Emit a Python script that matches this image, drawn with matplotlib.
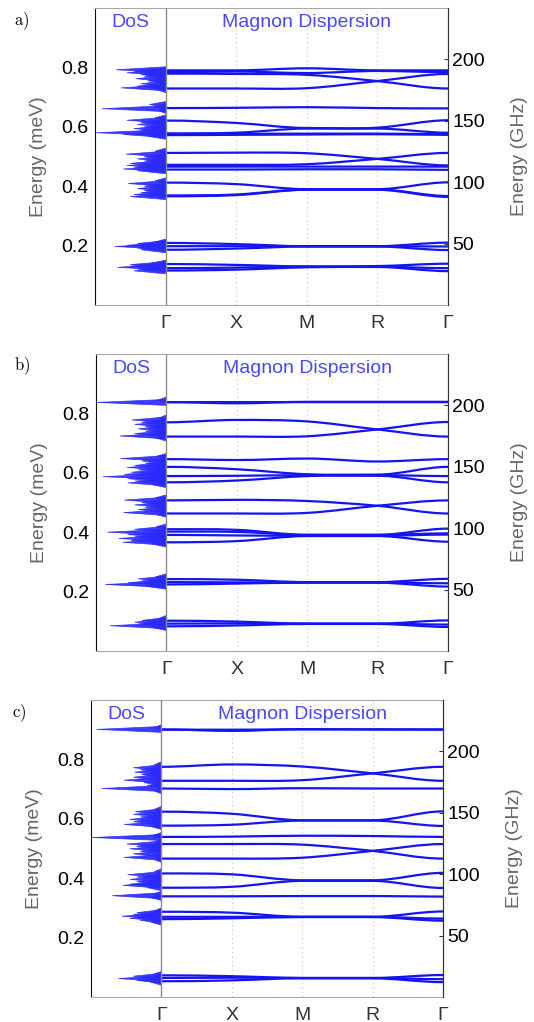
import matplotlib
matplotlib.use('Agg')
import matplotlib.pyplot as plt
from matplotlib.path import Path
from matplotlib.patches import PathPatch, Polygon

plt.rcParams['font.family'] = ['Liberation Sans', 'DejaVu Sans']
plt.rcParams['mathtext.fontset'] = 'cm'

# ---------------- data ----------------
k_labels = ['Γ', 'X', 'M', 'R', 'Γ']
k_pos = [0, 1, 2, 3, 4]
MEV_TO_GHZ = 241.799
ghz_ticks = [50, 100, 150, 200]
mev_ticks = [0.2, 0.4, 0.6, 0.8]
panel_labels = ['a)', 'b)', 'c)']

# band energies (meV) at Γ, X, M, R, Γ
bands_a = [
    [0.790, 0.790, 0.797, 0.790, 0.790],
    [0.784, 0.786, 0.781, 0.788, 0.784],
    [0.779, 0.778, 0.775, 0.754, 0.729],
    [0.729, 0.729, 0.730, 0.754, 0.778],
    [0.663, 0.664, 0.666, 0.663, 0.662],
    [0.621, 0.613, 0.596, 0.597, 0.622],
    [0.578, 0.580, 0.594, 0.594, 0.580],
    [0.575, 0.576, 0.577, 0.577, 0.575],
    [0.572, 0.573, 0.574, 0.575, 0.573],
    [0.512, 0.513, 0.511, 0.492, 0.470],
    [0.472, 0.472, 0.474, 0.492, 0.512],
    [0.466, 0.466, 0.466, 0.466, 0.466],
    [0.456, 0.456, 0.457, 0.457, 0.455],
    [0.412, 0.407, 0.390, 0.390, 0.413],
    [0.369, 0.372, 0.389, 0.389, 0.367],
    [0.366, 0.370, 0.388, 0.388, 0.364],
    [0.209, 0.205, 0.198, 0.198, 0.210],
    [0.198, 0.198, 0.198, 0.198, 0.197],
    [0.186, 0.190, 0.197, 0.197, 0.185],
    [0.138, 0.135, 0.130, 0.131, 0.139],
    [0.124, 0.126, 0.129, 0.129, 0.124],
    [0.116, 0.119, 0.127, 0.128, 0.114],
]
bands_b = [
    [0.838, 0.834, 0.839, 0.839, 0.839],
    [0.838, 0.838, 0.838, 0.838, 0.838],
    [0.770, 0.778, 0.773, 0.746, 0.722],
    [0.722, 0.722, 0.723, 0.746, 0.771],
    [0.646, 0.643, 0.648, 0.638, 0.646],
    [0.620, 0.612, 0.595, 0.594, 0.620],
    [0.589, 0.590, 0.592, 0.592, 0.589],
    [0.568, 0.574, 0.589, 0.590, 0.568],
    [0.507, 0.509, 0.505, 0.489, 0.463],
    [0.463, 0.463, 0.465, 0.489, 0.507],
    [0.410, 0.408, 0.391, 0.391, 0.412],
    [0.402, 0.401, 0.391, 0.391, 0.396],
    [0.391, 0.389, 0.388, 0.388, 0.392],
    [0.366, 0.370, 0.387, 0.387, 0.368],
    [0.242, 0.240, 0.232, 0.232, 0.243],
    [0.232, 0.231, 0.231, 0.231, 0.228],
    [0.224, 0.227, 0.230, 0.230, 0.217],
    [0.102, 0.099, 0.092, 0.092, 0.103],
    [0.092, 0.093, 0.092, 0.092, 0.089],
    [0.083, 0.086, 0.091, 0.091, 0.081],
]
bands_c = [
    [0.901, 0.896, 0.902, 0.901, 0.901],
    [0.900, 0.900, 0.901, 0.901, 0.900],
    [0.775, 0.783, 0.776, 0.753, 0.728],
    [0.728, 0.728, 0.730, 0.753, 0.775],
    [0.702, 0.700, 0.703, 0.702, 0.702],
    [0.624, 0.617, 0.595, 0.595, 0.625],
    [0.577, 0.580, 0.594, 0.594, 0.576],
    [0.539, 0.540, 0.543, 0.542, 0.539],
    [0.515, 0.515, 0.513, 0.492, 0.466],
    [0.466, 0.466, 0.469, 0.492, 0.515],
    [0.416, 0.413, 0.393, 0.393, 0.418],
    [0.368, 0.371, 0.391, 0.391, 0.367],
    [0.339, 0.339, 0.340, 0.340, 0.338],
    [0.287, 0.284, 0.270, 0.270, 0.288],
    [0.270, 0.270, 0.270, 0.270, 0.264],
    [0.262, 0.265, 0.269, 0.269, 0.257],
    [0.073, 0.070, 0.064, 0.064, 0.074],
    [0.064, 0.065, 0.064, 0.064, 0.060],
    [0.053, 0.056, 0.063, 0.063, 0.050],
]

# density of states spikes: energy (meV) and relative height
dos_a_E = [0.792, 0.787, 0.782, 0.776, 0.770, 0.762, 0.755, 0.745, 0.737, 0.731, 0.725,
           0.675, 0.668, 0.661, 0.655,
           0.630, 0.622, 0.615, 0.608, 0.600, 0.594, 0.588, 0.580, 0.574, 0.568,
           0.518, 0.508, 0.500, 0.492, 0.485, 0.477, 0.470, 0.464, 0.458, 0.452,
           0.418, 0.409, 0.400, 0.392, 0.385, 0.378, 0.372, 0.365,
           0.212, 0.207, 0.201, 0.197, 0.192, 0.186,
           0.141, 0.136, 0.131, 0.127, 0.121, 0.115]
dos_a_h = [0.70, 0.45, 0.55, 0.35, 0.30, 0.42, 0.25, 0.35, 0.40, 0.63, 0.12,
           0.23, 0.15, 0.90, 0.10,
           0.15, 0.55, 0.35, 0.40, 0.30, 0.45, 0.35, 0.99, 0.60, 0.25,
           0.15, 0.56, 0.30, 0.40, 0.30, 0.50, 0.55, 0.45, 0.60, 0.40,
           0.15, 0.53, 0.30, 0.40, 0.30, 0.35, 0.45, 0.50,
           0.15, 0.40, 0.55, 0.72, 0.40, 0.35,
           0.20, 0.50, 0.50, 0.68, 0.40, 0.45]
dos_b_E = [0.845, 0.837,
           0.785, 0.778, 0.770, 0.763, 0.756, 0.748, 0.740, 0.732, 0.724, 0.717,
           0.655, 0.648, 0.640, 0.632, 0.625, 0.618, 0.610, 0.602, 0.595, 0.587, 0.580, 0.572, 0.566, 0.560,
           0.516, 0.508, 0.500, 0.492, 0.484, 0.476, 0.466, 0.460,
           0.418, 0.410, 0.400, 0.392, 0.385, 0.379, 0.372, 0.366, 0.360,
           0.250, 0.243, 0.236, 0.230, 0.224, 0.218,
           0.110, 0.103, 0.097, 0.091, 0.085, 0.079]
dos_b_h = [0.12, 0.99,
           0.10, 0.49, 0.35, 0.45, 0.30, 0.40, 0.30, 0.45, 0.66, 0.15,
           0.15, 0.65, 0.35, 0.30, 0.45, 0.56, 0.40, 0.50, 0.60, 0.90, 0.55, 0.45, 0.55, 0.20,
           0.15, 0.60, 0.35, 0.45, 0.30, 0.40, 0.61, 0.15,
           0.15, 0.45, 0.84, 0.55, 0.45, 0.68, 0.50, 0.62, 0.20,
           0.15, 0.40, 0.35, 0.55, 0.87, 0.30,
           0.10, 0.35, 0.45, 0.40, 0.80, 0.20]
dos_c_E = [0.907, 0.901,
           0.782, 0.772, 0.765, 0.757, 0.749, 0.740, 0.730, 0.722, 0.712, 0.702, 0.694,
           0.632, 0.624, 0.615, 0.606, 0.598, 0.590, 0.581, 0.574,
           0.544, 0.537,
           0.522, 0.515, 0.507, 0.499, 0.491, 0.482, 0.470, 0.463,
           0.422, 0.412, 0.404, 0.396, 0.388, 0.380, 0.376, 0.368,
           0.346, 0.341, 0.335,
           0.290, 0.284, 0.278, 0.272, 0.265, 0.258, 0.252,
           0.076, 0.070, 0.062, 0.056, 0.050]
dos_c_h = [0.10, 0.92,
           0.10, 0.40, 0.30, 0.38, 0.28, 0.40, 0.53, 0.25, 0.20, 0.85, 0.10,
           0.10, 0.37, 0.40, 0.30, 0.45, 0.40, 0.53, 0.15,
           0.12, 0.99,
           0.10, 0.49, 0.35, 0.45, 0.30, 0.40, 0.53, 0.10,
           0.10, 0.48, 0.35, 0.45, 0.35, 0.45, 0.55, 0.20,
           0.12, 0.70, 0.15,
           0.10, 0.35, 0.40, 0.56, 0.45, 0.30, 0.15,
           0.12, 0.40, 0.61, 0.35, 0.15]

panels = [
    (bands_a, dos_a_E, dos_a_h),
    (bands_b, dos_b_E, dos_b_h),
    (bands_c, dos_c_E, dos_c_h),
]

# ---------------- style / layout ----------------
BAND_COLOR = '#1414f2'
TEXT_BLUE = '#4848ff'
W, H = 534, 1022
axes_px = [(95, 8, 448, 305), (96, 354, 448, 651), (91, 700, 443, 997)]  # left, top, right, bottom
label_px = [(14, 21), (14, 366), (12, 713)]


def band_path(xs, ys):
    n = len(xs)
    slopes = []
    for i in range(n):
        if i == 0 or i == n - 1:
            slopes.append(0.0)
        elif (ys[i] - ys[i - 1]) * (ys[i + 1] - ys[i]) > 0:
            slopes.append((ys[i + 1] - ys[i - 1]) / 2.0)
        else:
            slopes.append(0.0)
    verts = [(xs[0], ys[0])]
    codes = [Path.MOVETO]
    for i in range(n - 1):
        dx = xs[i + 1] - xs[i]
        verts += [(xs[i] + dx / 3, ys[i] + slopes[i] / 3),
                  (xs[i + 1] - dx / 3, ys[i + 1] - slopes[i + 1] / 3),
                  (xs[i + 1], ys[i + 1])]
        codes += [Path.CURVE4] * 3
    return Path(verts, codes)


fig = plt.figure(figsize=(W / 100, H / 100), dpi=100)

for p, (bands, dE, dh) in enumerate(panels):
    l, t, r, b = axes_px[p]
    ax = fig.add_axes([l / W, 1 - b / H, (r - l) / W, (b - t) / H])
    ax.set_xlim(-1, 4)
    ax.set_ylim(0, 1.0)

    # guides
    for xk in k_pos[1:4]:
        ax.axvline(xk, color='#c4c4c4', lw=0.8, ls=(0, (1, 3)), zorder=0)
    ax.axvline(0, color='#8a8a8a', lw=1.0, zorder=3)

    # DoS spikes
    w = 0.010
    for e, h in zip(dE, dh):
        ax.add_patch(Polygon([(0, e - w), (-h, e), (0, e + w)], closed=True,
                             facecolor='#2a2aff', edgecolor='#2a2aff', lw=0.5,
                             alpha=0.92, zorder=2))

    # bands
    for band in bands:
        ax.add_patch(PathPatch(band_path(k_pos, band), fill=False,
                               edgecolor=BAND_COLOR, lw=1.6, zorder=2))

    ax.text(-0.5, 0.952, 'DoS', color=TEXT_BLUE, fontsize=14,
            ha='center', va='center')
    ax.text(2, 0.952, 'Magnon Dispersion', color=TEXT_BLUE, fontsize=14,
            ha='center', va='center')

    ax.set_xticks(k_pos)
    ax.set_xticklabels(k_labels, fontsize=14, color='#333333')
    ax.tick_params(axis='x', length=0, pad=7)
    ax.set_yticks(mev_ticks)
    ax.set_yticklabels([f'{v:.1f}' for v in mev_ticks], fontsize=14)
    ax.tick_params(axis='y', length=0, pad=5)
    ax.set_ylabel('Energy (meV)', fontsize=14, color='#666666', labelpad=10)

    ax.spines['left'].set_color('#111111')
    ax.spines['right'].set_color('#333333')
    ax.spines['top'].set_color('#a8a8a8')
    ax.spines['bottom'].set_color('#a8a8a8')

    ax2 = ax.twinx()
    ax2.set_ylim(0, 1.0 * MEV_TO_GHZ)
    ax2.set_yticks(ghz_ticks)
    ax2.set_yticklabels([str(v) for v in ghz_ticks], fontsize=14)
    ax2.tick_params(axis='y', direction='in', length=3, color='#333333', pad=3)
    ax2.set_ylabel('Energy (GHz)', fontsize=14, color='#666666', labelpad=19)
    for s in ['left', 'top', 'bottom']:
        ax2.spines[s].set_visible(False)
    ax2.spines['right'].set_color('#333333')

    lx, ly = label_px[p]
    fig.text(lx / W, 1 - ly / H, r'$\mathrm{' + panel_labels[p][0] + ')}$',
             fontsize=12, ha='left', va='center')

fig.savefig('out.png', dpi=100)
